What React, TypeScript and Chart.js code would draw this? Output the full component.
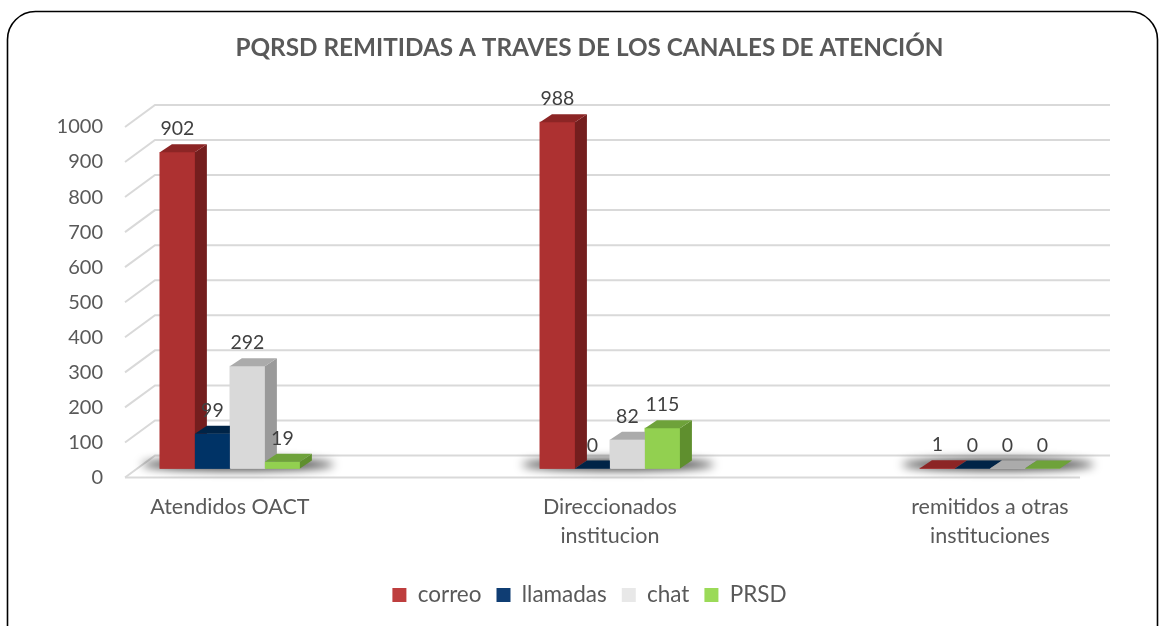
import { useEffect, useRef } from "react";
import { Chart, registerables } from "chart.js";

Chart.register(...registerables);

// ---------- data ----------
const categories: string[][] = [
  ["Atendidos OACT"],
  ["Direccionados", "institucion"],
  ["remitidos a otras", "instituciones"],
];
const seriesNames = ["correo", "llamadas", "chat", "PRSD"];
const correo = [902, 988, 1];
const llamadas = [99, 0, 0];
const chat = [292, 82, 0];
const prsd = [19, 115, 0];
const seriesValues = [correo, llamadas, chat, prsd];
const yMin = 0;
const yMax = 1000;
const yStep = 100;
const titleText = "PQRSD REMITIDAS A TRAVES DE LOS CANALES DE ATENCIÓN";

// ---------- styles ----------
const frontColors = ["#AD3131", "#003366", "#D9D9D9", "#92D050"];
const sideColors = ["#741E1E", "#00213F", "#9A9A9A", "#5F8F2E"];
const topColors = ["#8C2525", "#002447", "#ABABAB", "#6EA23A"];
const legendColors = ["#BE3E3E", "#0F3D73", "#E8E8E8", "#9BDA58"];
const FONT = "Lato, 'Open Sans', sans-serif";
const TEXT = "#595959";

const BAR_DX = 12; // bar depth (x)
const BAR_DY = 8; // bar depth (y)
const WALL_DX = 30; // back wall offset
const WALL_DY = 22;
const BAR_LIFT = 9; // bars sit mid-depth on the floor

const pseudo3d = {
  id: "pseudo3d",
  beforeDraw(chart: any) {
    const { ctx, width, height } = chart;
    ctx.save();
    ctx.fillStyle = "#ffffff";
    ctx.fillRect(0, 0, width, height);
    ctx.beginPath();
    ctx.roundRect(7.5, 11.5, 1150, 720, 28);
    ctx.lineWidth = 1.6;
    ctx.strokeStyle = "#000000";
    ctx.stroke();
    ctx.restore();
  },
  beforeDatasetsDraw(chart: any) {
    const { ctx, chartArea: a } = chart;
    const y = chart.scales.y;
    ctx.save();
    ctx.strokeStyle = "#D9D9D9";
    ctx.lineWidth = 2;
    y.ticks.forEach((t: any) => {
      const py = y.getPixelForValue(t.value);
      ctx.beginPath();
      ctx.moveTo(a.left, py);
      ctx.lineTo(a.left + WALL_DX, py - WALL_DY);
      ctx.lineTo(a.right + WALL_DX, py - WALL_DY);
      ctx.stroke();
    });
    ctx.beginPath();
    ctx.moveTo(a.left, a.bottom);
    ctx.lineTo(a.right, a.bottom);
    ctx.stroke();
    ctx.restore();

    // bars are lifted onto the floor (kept until afterDatasetsDraw)
    ctx.save();
    ctx.translate(0, -BAR_LIFT);

    // floor shadows per category
    const n = categories.length;
    for (let j = 0; j < n; j++) {
      let minL = Infinity;
      let maxR = -Infinity;
      let base = 0;
      seriesValues.forEach((_, i) => {
        const el: any = chart.getDatasetMeta(i).data[j];
        if (!el) return;
        const p = el.getProps(["x", "width", "base"], true);
        minL = Math.min(minL, p.x - p.width / 2);
        maxR = Math.max(maxR, p.x + p.width / 2);
        base = p.base;
      });
      if (!isFinite(minL)) continue;
      ctx.save();
      ctx.filter = "blur(5px)";
      ctx.fillStyle = "rgba(0,0,0,0.75)";
      ctx.beginPath();
      ctx.ellipse((minL + maxR) / 2 + 8, base - 4, (maxR - minL) / 2 + 26, 6, 0, 0, Math.PI * 2);
      ctx.fill();
      ctx.restore();
    }
  },
  afterDatasetsDraw(chart: any) {
    const { ctx } = chart;
    const n = categories.length;
    for (let j = 0; j < n; j++) {
      seriesValues.forEach((_, i) => {
        const el: any = chart.getDatasetMeta(i).data[j];
        if (!el) return;
        const p = el.getProps(["x", "y", "base", "width"], true);
        const left = p.x - p.width / 2;
        const right = p.x + p.width / 2;
        const top = Math.min(p.y, p.base);
        const bottom = Math.max(p.y, p.base);
        // front
        ctx.fillStyle = frontColors[i];
        ctx.fillRect(left, top, right - left, bottom - top);
        // side
        ctx.fillStyle = sideColors[i];
        ctx.beginPath();
        ctx.moveTo(right, top);
        ctx.lineTo(right + BAR_DX, top - BAR_DY);
        ctx.lineTo(right + BAR_DX, bottom - BAR_DY);
        ctx.lineTo(right, bottom);
        ctx.closePath();
        ctx.fill();
        // top
        ctx.fillStyle = topColors[i];
        ctx.beginPath();
        ctx.moveTo(left, top);
        ctx.lineTo(left + BAR_DX, top - BAR_DY);
        ctx.lineTo(right + BAR_DX, top - BAR_DY);
        ctx.lineTo(right, top);
        ctx.closePath();
        ctx.fill();
      });
    }
    // value labels
    ctx.fillStyle = "#404040";
    ctx.font = `19.5px ${FONT}`;
    ctx.textAlign = "center";
    ctx.textBaseline = "alphabetic";
    seriesValues.forEach((vals, i) => {
      chart.getDatasetMeta(i).data.forEach((el: any, j: number) => {
        const p = el.getProps(["x", "y", "base"], true);
        const top = Math.min(p.y, p.base);
        ctx.fillText(String(vals[j]), p.x, top - BAR_DY - 9);
      });
    });
    ctx.restore();
  },
};

export default function App() {
  const ref = useRef<HTMLCanvasElement | null>(null);

  useEffect(() => {
    if (!ref.current) return;
    const datasets = seriesNames.map((name, i) => ({
      label: name,
      data: seriesValues[i].map((v, j) => ({ x: j, y: v })),
      backgroundColor: frontColors[i],
      borderWidth: 0,
      barThickness: 35,
      clip: false as any,
    }));
    const chart = new Chart(ref.current, {
      type: "bar",
      data: { datasets },
      options: {
        animation: false,
        responsive: false,
        devicePixelRatio: 1,
        events: [],
        layout: { padding: { left: 20, right: 0, top: 0, bottom: 9.75 } },
        plugins: {
          title: {
            display: true,
            text: titleText,
            color: TEXT,
            font: { family: FONT, size: 24.3, weight: "bold", lineHeight: 1.2 },
            padding: { top: 33.4, bottom: 64.4 },
          },
          legend: {
            position: "bottom",
            labels: {
              color: TEXT,
              font: { family: FONT, size: 22.5 },
              boxWidth: 14,
              boxHeight: 14,
              padding: 15,
              generateLabels: (c: any) =>
                (Chart.defaults.plugins.legend.labels.generateLabels as any)(c).map((l: any) => ({
                  ...l,
                  fillStyle: legendColors[l.datasetIndex],
                  strokeStyle: legendColors[l.datasetIndex],
                  lineWidth: 0,
                })),
            },
          },
          tooltip: { enabled: false },
        },
        scales: {
          x: {
            type: "linear",
            offset: false,
            min: -0.276,
            max: 2.237,
            afterBuildTicks: (s: any) => {
              s.ticks = categories.map((_, i) => ({ value: i }));
            },
            afterFit: (s: any) => {
              s.height = 91.25;
            },
            ticks: {
              autoSkip: false,
              maxRotation: 0,
              padding: 15.5,
              color: TEXT,
              font: { family: FONT, size: 21.5, lineHeight: 1.35 },
              callback: (v: any) => categories[v as number] ?? "",
            },
            grid: { display: false, drawTicks: false, offset: false },
            border: { display: false },
          },
          y: {
            min: yMin,
            max: yMax,
            afterFit: (s: any) => {
              s.width = 105;
            },
            ticks: {
              stepSize: yStep,
              padding: 22,
              color: TEXT,
              font: { family: FONT, size: 20 },
              callback: (v: any) => String(v),
            },
            grid: { display: false, drawTicks: false },
            border: { display: false },
          },
          yRight: {
            position: "right",
            display: true,
            min: yMin,
            max: yMax,
            afterFit: (s: any) => {
              s.width = 79;
            },
            ticks: { display: false },
            grid: { display: false, drawTicks: false },
            border: { display: false },
          },
        },
      },
      plugins: [pseudo3d],
    });
    return () => chart.destroy();
  }, []);

  return (
    <div style={{ position: "fixed", left: 0, top: 0, width: 1159, height: 626, background: "#fff" }}>
      <canvas ref={ref} width={1159} height={626} style={{ display: "block" }} />
    </div>
  );
}
